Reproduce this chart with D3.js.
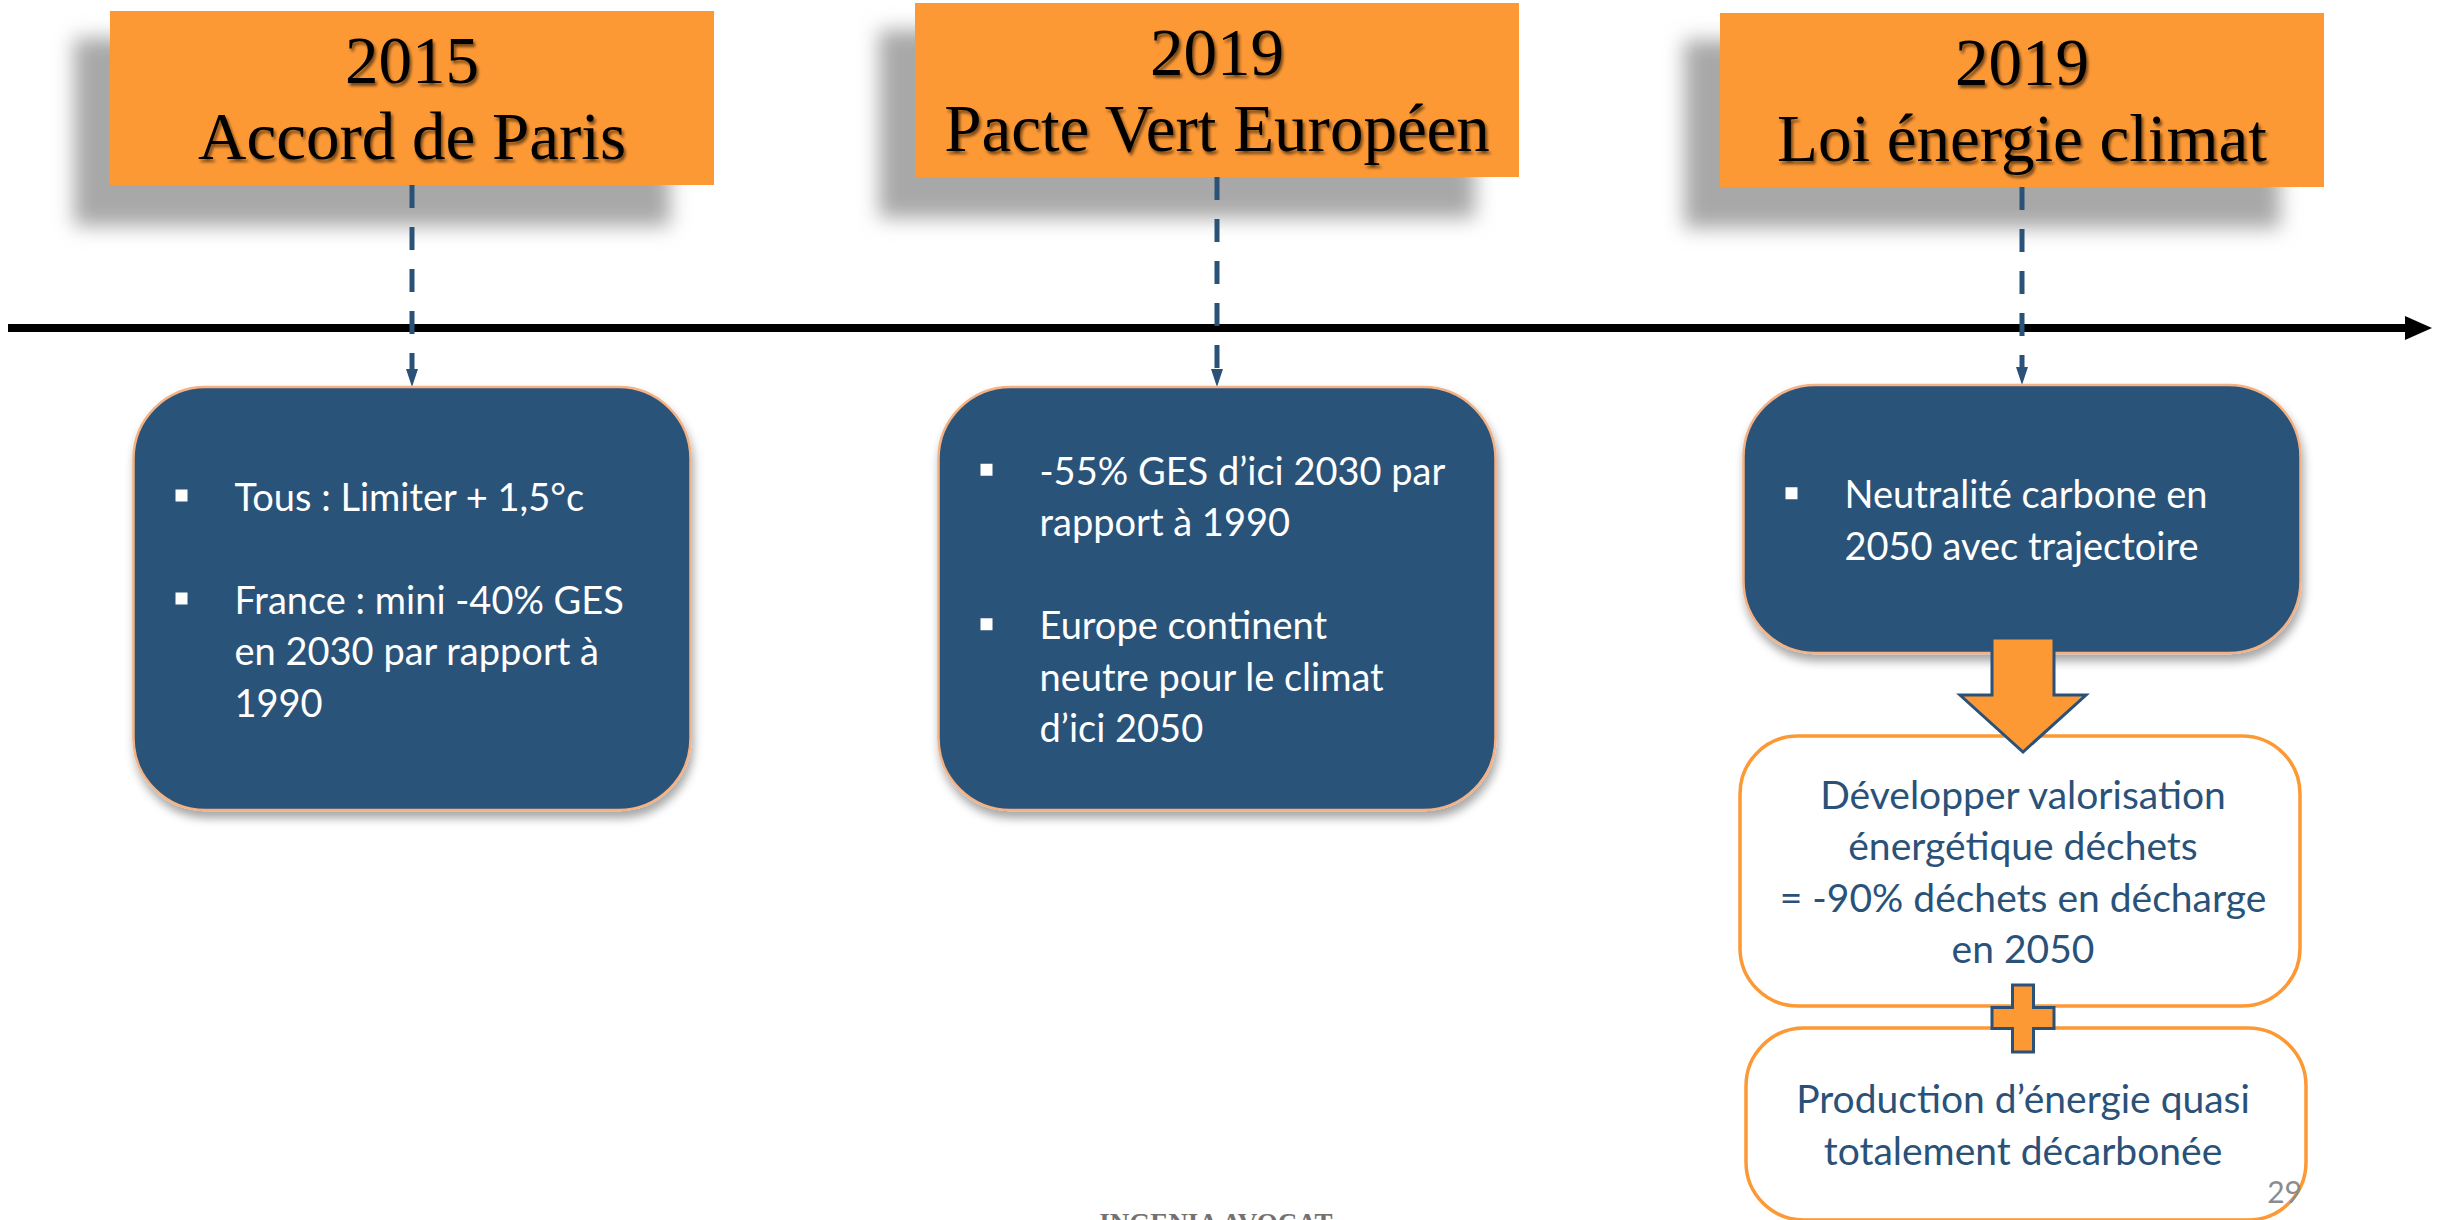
<!DOCTYPE html>
<html lang="fr">
<head>
<meta charset="UTF-8">
<title>Frise climat</title>
<script src="https://cdnjs.cloudflare.com/ajax/libs/d3/7.8.5/d3.min.js"></script>
<style>
  html, body { margin: 0; padding: 0; background: #fff; }
  svg { display: block; }
</style>
</head>
<body>
<svg id="chart" width="2440" height="1220"></svg>
<script>
  // --- contenu ---
  const years = ["2015", "2019", "2019"];
  const titles = ["Accord de Paris", "Pacte Vert Européen", "Loi énergie climat"];
  const bullets = [
    [["Tous : Limiter + 1,5°c"], ["France : mini -40% GES", "en 2030 par rapport à", "1990"]],
    [["-55% GES d’ici 2030 par", "rapport à 1990"], ["Europe continent", "neutre pour le climat", "d’ici 2050"]],
    [["Neutralité carbone en", "2050 avec trajectoire"]]
  ];
  const outcomes = [
    ["Développer valorisation", "énergétique déchets", "= -90% déchets en décharge", "en 2050"],
    ["Production d’énergie quasi", "totalement décarbonée"]
  ];
  const pageNumber = "29";
  const footer = "INGENIA AVOCAT";

  // --- mise en page ---
  const orange = "#fd9935", blue = "#2a5279", peach = "#f4b183";
  const headW = 604, headH = 174, headTop = [11, 3, 13];
  const boxW = 557, boxTop = [387, 387, 385], boxH = [423, 423, 268];
  const lineH = 51.5;
  const axisY = 328;
  const sans = "Lato, 'Open Sans', sans-serif";
  const serif = "'Liberation Serif', 'Times New Roman', serif";

  const svg = d3.select("#chart");
  const x = d3.scalePoint().domain(d3.range(years.length)).range([412, 2022]);

  const defs = svg.append("defs");
  defs.append("filter").attr("id", "blurShadow")
      .attr("x", "-20%").attr("y", "-30%").attr("width", "140%").attr("height", "160%")
    .append("feGaussianBlur").attr("stdDeviation", 10);
  defs.append("filter").attr("id", "textShadow")
    .append("feDropShadow").attr("dx", 2).attr("dy", 3).attr("stdDeviation", 1.5)
      .attr("flood-color", "#000").attr("flood-opacity", 0.55);
  defs.append("filter").attr("id", "boxShadow")
      .attr("x", "-10%").attr("y", "-10%").attr("width", "120%").attr("height", "130%")
    .append("feDropShadow").attr("dx", 2).attr("dy", 7).attr("stdDeviation", 5)
      .attr("flood-color", "#000").attr("flood-opacity", 0.35);

  // axe du temps
  svg.append("line")
      .attr("x1", 8).attr("x2", 2410).attr("y1", axisY).attr("y2", axisY)
      .attr("stroke", "#000").attr("stroke-width", 8);
  svg.append("path")
      .attr("d", `M2405,${axisY - 12}L2432,${axisY}L2405,${axisY + 12}Z`)
      .attr("fill", "#000");

  // ombres des titres
  svg.append("g").selectAll("rect")
    .data(years)
    .join("rect")
      .attr("x", (d, i) => x(i) - headW / 2 - 36)
      .attr("y", (d, i) => headTop[i] + 27)
      .attr("width", headW - 8)
      .attr("height", headH + 14)
      .attr("fill", "#a8a8a8")
      .attr("filter", "url(#blurShadow)");

  // liaisons en pointillés
  const links = svg.append("g");
  years.forEach((d, i) => {
    const cx = x(i), tip = boxTop[i];
    links.append("line")
        .attr("x1", cx).attr("x2", cx)
        .attr("y1", headTop[i] + headH).attr("y2", tip - 16)
        .attr("stroke", blue).attr("stroke-width", 5)
        .attr("stroke-dasharray", "23,19");
    links.append("path")
        .attr("d", `M${cx - 6},${tip - 18}L${cx + 6},${tip - 18}L${cx},${tip}Z`)
        .attr("fill", blue);
  });

  // cartouches orange
  const heads = svg.append("g").selectAll("g")
    .data(years)
    .join("g")
      .attr("transform", (d, i) => `translate(${x(i)},${headTop[i]})`);
  heads.append("rect")
      .attr("x", -headW / 2).attr("width", headW).attr("height", headH)
      .attr("fill", orange);
  heads.append("text")
      .attr("y", 72)
      .attr("text-anchor", "middle")
      .attr("font-family", serif).attr("font-size", 67)
      .attr("filter", "url(#textShadow)")
      .text(d => d);
  heads.append("text")
      .attr("y", 148)
      .attr("text-anchor", "middle")
      .attr("font-family", serif).attr("font-size", 67)
      .attr("filter", "url(#textShadow)")
      .text((d, i) => titles[i]);

  // encadrés bleus
  const boxes = svg.append("g").selectAll("g")
    .data(bullets)
    .join("g")
      .attr("transform", (d, i) => `translate(${x(i) - boxW / 2},${boxTop[i]})`);
  boxes.append("rect")
      .attr("width", boxW).attr("height", (d, i) => boxH[i])
      .attr("rx", 72).attr("ry", 72)
      .attr("fill", blue)
      .attr("stroke", peach).attr("stroke-width", 2.5)
      .attr("filter", "url(#boxShadow)");
  boxes.each(function (paras, i) {
    const g = d3.select(this);
    const rows = [];
    paras.forEach((p, k) => {
      if (k > 0) rows.push(null);
      p.forEach((t, j) => rows.push({ t, first: j === 0 }));
    });
    const y0 = boxH[i] / 2 - (rows.length - 1) * lineH / 2 + 15;
    rows.forEach((r, j) => {
      if (!r) return;
      const y = y0 + j * lineH;
      if (r.first) {
        g.append("rect")
            .attr("x", 42).attr("y", y - 21).attr("width", 12).attr("height", 12)
            .attr("fill", "#fff");
      }
      g.append("text")
          .attr("x", 101).attr("y", y)
          .attr("font-family", sans).attr("font-size", 38)
          .attr("fill", "#fff")
          .text(r.t);
    });
  });

  // conséquences (colonne de droite)
  const outCx = x(2) + 1;
  const outBoxes = [{ top: 736, h: 270 }, { top: 1028, h: 192 }];
  const outs = svg.append("g").selectAll("g")
    .data(outcomes)
    .join("g")
      .attr("transform", (d, i) => `translate(${outCx},${outBoxes[i].top})`);
  outs.append("rect")
      .attr("x", (d, i) => -280 + (i === 1 ? 3 : -3))
      .attr("width", 560).attr("height", (d, i) => outBoxes[i].h)
      .attr("rx", 58).attr("ry", 58)
      .attr("fill", "#fff")
      .attr("stroke", orange).attr("stroke-width", 3.5);
  outs.selectAll("text")
    .data((d, i) => d.map((t, j) => ({ t, y: outBoxes[i].h / 2 - (d.length - 1) * lineH / 2 + 15 + j * lineH })))
    .join("text")
      .attr("y", d => d.y)
      .attr("text-anchor", "middle")
      .attr("font-family", sans).attr("font-size", 39)
      .attr("fill", blue)
      .text(d => d.t);

  // flèche orange
  const ax = outCx;
  svg.append("path")
      .attr("d", `M${ax - 31},638H${ax + 31}V695H${ax + 63}L${ax},752L${ax - 63},695H${ax - 31}Z`)
      .attr("fill", orange).attr("stroke", blue).attr("stroke-width", 3)
      .attr("stroke-linejoin", "miter");

  // signe plus
  const px = outCx, py = 1018, a = 10.5;
  svg.append("path")
      .attr("d", `M${px - a},${py - 33}H${px + a}V${py - a}H${px + 31}V${py + a}H${px + a}V${py + 34}` +
                 `H${px - a}V${py + a}H${px - 31}V${py - a}H${px - a}Z`)
      .attr("fill", orange).attr("stroke", blue).attr("stroke-width", 3);

  // numéro de page et pied
  svg.append("text")
      .attr("x", 2302).attr("y", 1203)
      .attr("text-anchor", "end")
      .attr("font-family", sans).attr("font-size", 30)
      .attr("fill", "#8c8c8c")
      .text(pageNumber);
  svg.append("text")
      .attr("x", 1216).attr("y", 1232)
      .attr("text-anchor", "middle")
      .attr("font-family", serif).attr("font-size", 27).attr("font-weight", "bold")
      .attr("fill", "#767171")
      .text(footer);
</script>
</body>
</html>
